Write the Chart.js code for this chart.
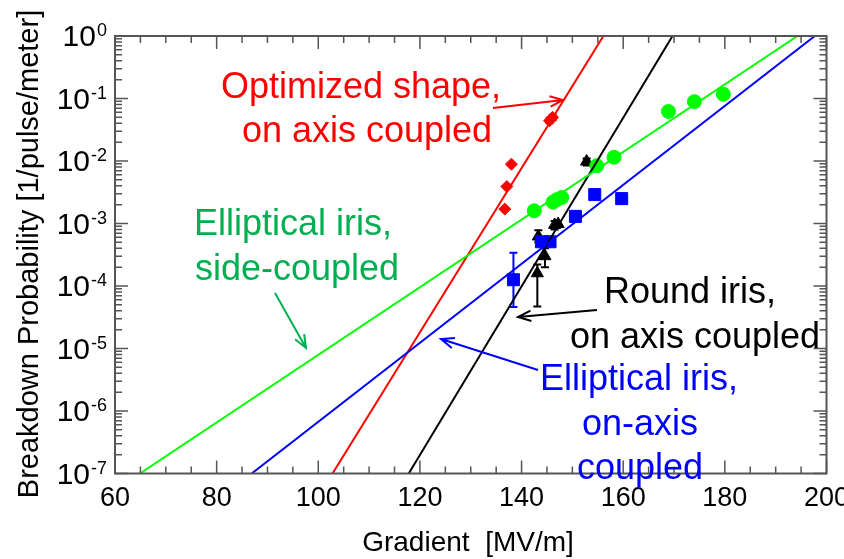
<!DOCTYPE html>
<html>
<head>
<meta charset="utf-8">
<script src="https://cdn.jsdelivr.net/npm/chart.js@4.4.1/dist/chart.umd.min.js"></script>
<style>
  html, body { margin: 0; padding: 0; background: #fff; }
</style>
</head>
<body>
<canvas id="bdChart" width="844" height="559"></canvas>
<script>
// Gradient [MV/m] vs breakdown probability [1/pulse/meter]
const optGradient = [136.7, 137.1, 138.0, 145.5, 146.1];
const optBdp      = [1.7e-3, 3.9e-3, 8.9e-3, 0.044, 0.050];
const optLow      = [null, null, null, 0.040, 0.045];
const optHigh     = [null, null, null, 0.049, 0.055];

const roundGradient = [143.1, 143.3, 144.6, 145.2, 146.5, 147.2, 152.8];
const roundBdp      = [1.6e-4, 6.2e-4, 3.0e-4, 5.0e-4, 9.5e-4, 9.8e-4, 9.8e-3];
const roundLow      = [4.7e-5, 5.0e-4, 2.0e-4, null, 8.0e-4, null, 8.5e-3];
const roundHigh     = [2.2e-4, 7.8e-4, 4.0e-4, null, 1.1e-3, null, 1.1e-2];

const sideGradient = [142.5, 146.2, 146.9, 147.9, 154.8, 158.2, 168.9, 174.0, 179.7];
const sideBdp      = [1.6e-3, 2.2e-3, 2.4e-3, 2.6e-3, 8.4e-3, 0.0115, 0.062, 0.089, 0.117];

const onAxisGradient = [138.4, 143.9, 145.6, 150.6, 154.4, 159.7];
const onAxisBdp      = [1.26e-4, 5.1e-4, 5.1e-4, 1.3e-3, 2.9e-3, 2.5e-3];
const onAxisLow      = [4.6e-5, null, null, null, null, null];
const onAxisHigh     = [3.4e-4, null, null, null, null, null];

// exponential fits, drawn between the end gradients below
const fitBdp        = [1e-7, 1];
const optFitX       = [102.8, 156.1];
const roundFitX     = [117.8, 169.7];
const sideFitX      = [64.9, 194.3];
const onAxisFitX    = [86.9, 197.7];

const xTickValues = [60, 80, 100, 120, 140, 160, 180, 200];
const yDecades    = [0, -1, -2, -3, -4, -5, -6, -7];

const FONT = '"Liberation Sans", Arial, sans-serif';
const RED = '#ff0000', GREEN = '#00ff00', GREEN_TXT = '#00b050', BLUE = '#0000ff', BLACK = '#000000';

function pts(xs, ys) {
  return xs.map((x, i) => ({ x: x, y: ys[i] }));
}

function fitLine(xs, color) {
  return {
    type: 'line',
    data: pts(xs, fitBdp),
    borderColor: color,
    borderWidth: 2,
    pointRadius: 0,
    fill: false
  };
}

function markers(xs, ys, color, style, radius) {
  return {
    type: 'scatter',
    data: pts(xs, ys),
    backgroundColor: color,
    borderColor: color,
    borderWidth: 1,
    pointStyle: style,
    pointRadius: radius
  };
}

// error bars: [gradients, low, high, color]
const errorSets = [
  [optGradient, optLow, optHigh, RED],
  [roundGradient, roundLow, roundHigh, BLACK],
  [onAxisGradient, onAxisLow, onAxisHigh, BLUE]
];

// text labels with arrows
const notes = [
  { color: RED, lines: [['Optimized shape,', 361, 98], ['on axis coupled', 367, 142]], arrow: [493, 108, 563, 100] },
  { color: GREEN_TXT, lines: [['Elliptical iris,', 293, 235], ['side-coupled', 297, 280]], arrow: [275, 293, 306, 348] },
  { color: BLACK, lines: [['Round iris,', 690, 303], ['on axis coupled', 695, 348]], arrow: [597, 310, 518, 317] },
  { color: BLUE, lines: [['Elliptical iris,', 639, 390], ['on-axis', 640, 435], ['coupled', 640, 479]], arrow: [538, 370, 441, 339] }
];

function arrow(ctx, x1, y1, x2, y2) {
  const a = Math.atan2(y2 - y1, x2 - x1);
  const len = 14, spread = 0.38;
  ctx.beginPath();
  ctx.moveTo(x1, y1);
  ctx.lineTo(x2, y2);
  ctx.moveTo(x2 - len * Math.cos(a - spread), y2 - len * Math.sin(a - spread));
  ctx.lineTo(x2, y2);
  ctx.lineTo(x2 - len * Math.cos(a + spread), y2 - len * Math.sin(a + spread));
  ctx.stroke();
}

const errorBarPlugin = {
  id: 'errorBars',
  beforeDatasetsDraw(chart) {
    const ctx = chart.ctx, xs = chart.scales.x, ys = chart.scales.y;
    ctx.save();
    ctx.lineWidth = 2;
    errorSets.forEach(([gx, lo, hi, color]) => {
      ctx.strokeStyle = color;
      gx.forEach((g, i) => {
        if (lo[i] == null) return;
        const px = xs.getPixelForValue(g);
        const p1 = ys.getPixelForValue(lo[i]);
        const p2 = ys.getPixelForValue(hi[i]);
        ctx.beginPath();
        ctx.moveTo(px, p1); ctx.lineTo(px, p2);
        ctx.moveTo(px - 4, p1); ctx.lineTo(px + 4, p1);
        ctx.moveTo(px - 4, p2); ctx.lineTo(px + 4, p2);
        ctx.stroke();
      });
    });
    ctx.restore();
  }
};

const framePlugin = {
  id: 'frame',
  afterDraw(chart) {
    const ctx = chart.ctx, xs = chart.scales.x, ys = chart.scales.y;
    const a = chart.chartArea;
    ctx.save();

    // axis box
    ctx.strokeStyle = '#555';
    ctx.lineWidth = 2;
    ctx.strokeRect(a.left, a.top, a.right - a.left, a.bottom - a.top);

    // inward ticks on all four sides
    ctx.lineWidth = 1.5;
    ctx.beginPath();
    for (let g = 60; g <= 200; g += 5) {
      const px = xs.getPixelForValue(g);
      const len = g % 20 === 0 ? 13 : 7;
      ctx.moveTo(px, a.bottom); ctx.lineTo(px, a.bottom - len);
      ctx.moveTo(px, a.top); ctx.lineTo(px, a.top + len);
    }
    yDecades.forEach(d => {
      for (let m = 1; m <= 9; m++) {
        if (d === 0 && m > 1) break;
        const py = ys.getPixelForValue(m * Math.pow(10, d));
        const len = m === 1 ? 13 : 7;
        ctx.moveTo(a.left, py); ctx.lineTo(a.left + len, py);
        ctx.moveTo(a.right, py); ctx.lineTo(a.right - len, py);
      }
    });
    ctx.stroke();

    // y tick labels as powers of ten, right edge just left of the axis
    ctx.fillStyle = '#000';
    const labelRight = a.left - 8;
    yDecades.forEach(d => {
      const py = ys.getPixelForValue(Math.pow(10, d));
      const exp = d === 0 ? '0' : '-' + Math.abs(d);
      ctx.font = '18px ' + FONT;
      const ew = ctx.measureText(exp).width;
      ctx.textAlign = 'left';
      ctx.textBaseline = 'alphabetic';
      ctx.fillText(exp, labelRight - ew, py);
      ctx.font = '30px ' + FONT;
      ctx.textAlign = 'right';
      ctx.textBaseline = 'middle';
      ctx.fillText('10', labelRight - ew - 1, py + 2);
    });

    // axis titles
    ctx.font = '28px ' + FONT;
    ctx.textAlign = 'center';
    ctx.textBaseline = 'alphabetic';
    ctx.fillText('Gradient  [MV/m]', 468, 551);
    ctx.save();
    ctx.translate(38, 254);
    ctx.rotate(-Math.PI / 2);
    ctx.font = '29px ' + FONT;
    ctx.fillText('Breakdown Probability [1/pulse/meter]', 0, 0);
    ctx.restore();

    // annotations
    ctx.font = '36px ' + FONT;
    ctx.lineWidth = 2;
    notes.forEach(n => {
      ctx.fillStyle = n.color;
      ctx.strokeStyle = n.color;
      n.lines.forEach(([t, x, y]) => ctx.fillText(t, x, y));
      arrow(ctx, ...n.arrow);
    });
    ctx.restore();
  }
};

new Chart(document.getElementById('bdChart'), {
  data: {
    datasets: [
      fitLine(sideFitX, GREEN),
      fitLine(onAxisFitX, BLUE),
      fitLine(optFitX, RED),
      fitLine(roundFitX, BLACK),
      markers(sideGradient, sideBdp, GREEN, 'circle', 7),
      markers(onAxisGradient, onAxisBdp, BLUE, 'rect', 8.5),
      markers(optGradient, optBdp, RED, 'rectRot', 6),
      markers(roundGradient, roundBdp, BLACK, 'triangle', 7)
    ]
  },
  options: {
    responsive: false,
    animation: false,
    devicePixelRatio: 1,
    layout: { padding: { top: 36, right: 17.5, bottom: 0, left: 0 } },
    plugins: { legend: { display: false }, tooltip: { enabled: false } },
    scales: {
      x: {
        type: 'linear',
        min: 60,
        max: 200,
        afterFit(scale) {
          scale.height = 85.5;
          // end labels may hang over the plot edges
          scale.paddingLeft = 0;
          scale.paddingRight = 0;
        },
        afterBuildTicks(scale) { scale.ticks = xTickValues.map(v => ({ value: v })); },
        grid: { display: false, drawTicks: false },
        border: { display: false },
        ticks: { color: '#000', padding: 9, maxRotation: 0, font: { family: FONT, size: 27 } }
      },
      y: {
        type: 'logarithmic',
        min: 1e-7,
        max: 1,
        afterFit(scale) {
          scale.width = 115;
          scale.paddingTop = 0;
          scale.paddingBottom = 0;
        },
        grid: { display: false, drawTicks: false },
        border: { display: false },
        ticks: { display: false }
      }
    }
  },
  plugins: [errorBarPlugin, framePlugin]
});
</script>
</body>
</html>
